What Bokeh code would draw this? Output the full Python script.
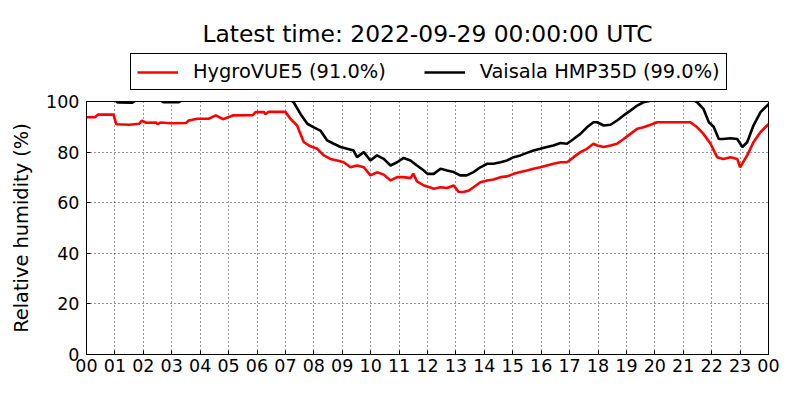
from bokeh.plotting import figure
from bokeh.layouts import column
from bokeh.models import Range1d, FixedTicker, Legend, LegendItem, Label
from bokeh.embed import file_html
from bokeh.resources import INLINE

# ---- data (hours since 00 UTC, relative humidity %) ----
hours_hygro = [0.0, 0.3, 0.4, 0.95, 1.05, 1.5, 1.85, 1.95, 2.1, 2.45, 2.5, 2.6, 2.95, 3.5, 3.6,
               3.9, 4.3, 4.55, 4.8, 5.15, 5.85, 5.95, 6.25, 6.3, 6.4, 7.0, 7.18, 7.41, 7.53, 7.65,
               7.88, 8.12, 8.35, 8.58, 8.82, 9.05, 9.29, 9.52, 9.76, 9.99, 10.22, 10.46, 10.7,
               10.93, 11.16, 11.4, 11.5, 11.63, 11.87, 12.1, 12.22, 12.46, 12.69, 12.92, 13.1,
               13.27, 13.45, 13.62, 13.86, 14.1, 14.32, 14.57, 14.8, 15.03, 15.27, 15.5, 15.73,
               15.97, 16.2, 16.43, 16.68, 16.91, 17.14, 17.38, 17.61, 17.84, 17.97, 18.2, 18.44,
               18.67, 18.9, 19.14, 19.38, 19.6, 19.85, 20.08, 21.25, 21.49, 21.71, 21.96, 22.19,
               22.41, 22.66, 22.9, 23.0, 23.25, 23.47, 23.72, 23.95, 24.0]
rh_hygro = [93.8, 93.8, 94.8, 94.8, 91.0, 90.8, 91.2, 92.4, 91.6, 91.7, 91.0, 91.7, 91.4, 91.5, 92.5,
            93.2, 93.2, 94.5, 93.0, 94.5, 94.6, 95.8, 95.8, 94.9, 95.9, 95.9, 93.1, 90.5, 87.2, 83.9,
            82.3, 81.3, 78.7, 77.3, 76.7, 76.0, 74.0, 74.7, 74.0, 70.8, 72.0, 71.1, 68.8,
            70.1, 70.1, 69.7, 71.5, 68.4, 66.8, 66.0, 65.5, 66.1, 65.8, 66.8, 64.2,
            64.2, 64.8, 66.1, 68.1, 68.8, 69.2, 70.1, 70.4, 71.4, 72.1, 72.7, 73.4,
            74.0, 74.7, 75.4, 76.0, 76.0, 78.0, 80.0, 81.3, 83.3, 82.6, 82.0, 82.6,
            83.3, 85.2, 87.2, 89.2, 89.8, 90.8, 91.8, 91.8, 89.8, 87.2, 83.3, 78.0,
            77.3, 78.0, 77.3, 74.0, 78.7, 83.9, 87.9, 90.5, 91.0]

hours_vaisala = [0.0, 1.0, 1.1, 1.6, 1.75, 2.6, 2.7, 3.25, 3.35, 7.2, 7.3, 7.53, 7.77, 8.0, 8.23,
                 8.47, 8.7, 8.94, 9.17, 9.4, 9.52, 9.76, 9.99, 10.22, 10.46, 10.7, 10.93, 11.16,
                 11.4, 11.63, 11.87, 12.0, 12.22, 12.46, 12.69, 12.92, 13.15, 13.38, 13.62, 13.86,
                 14.1, 14.32, 14.57, 14.8, 15.03, 15.27, 15.5, 15.73, 15.97, 16.2, 16.43, 16.68,
                 16.91, 17.14, 17.38, 17.61, 17.84, 17.97, 18.2, 18.44, 18.67, 18.9, 19.14, 19.38,
                 19.6, 19.85, 21.4, 21.49, 21.71, 21.9, 22.07, 22.25, 22.41, 22.66, 22.9, 23.08,
                 23.25, 23.47, 23.72, 23.95, 24.0]
rh_vaisala = [100.6, 100.5, 99.6, 99.5, 100.5, 100.4, 99.7, 99.7, 100.5, 100.5, 99.5, 95.1, 91.2, 89.8, 88.5,
              84.6, 83.3, 82.0, 81.3, 80.6, 78.0, 80.0, 76.7, 78.7, 77.3, 74.7, 76.0, 77.7,
              76.7, 74.7, 72.7, 71.4, 71.4, 73.4, 72.7, 72.1, 70.8, 70.8, 72.1, 74.0,
              75.4, 75.4, 76.0, 76.7, 78.0, 78.7, 79.7, 80.6, 81.3, 82.0, 82.6, 83.6,
              83.3, 85.2, 87.2, 89.8, 91.8, 91.8, 90.5, 90.8, 92.5, 94.5, 96.4, 98.4,
              99.7, 100.3, 100.3, 99.7, 97.1, 91.8, 90.0, 85.2, 85.2, 85.5, 85.2, 82.0,
              83.9, 90.5, 95.8, 98.4, 99.0]

tick_hours = list(range(0, 25))
tick_labels = ["00", "01", "02", "03", "04", "05", "06", "07", "08", "09", "10", "11",
               "12", "13", "14", "15", "16", "17", "18", "19", "20", "21", "22", "23", "00"]
y_ticks = [0, 20, 40, 60, 80, 100]

title_text = "Latest time: 2022-09-29 00:00:00 UTC"
label_hygro = "HygroVUE5 (91.0%)"
label_vaisala = "Vaisala HMP35D (99.0%)"
color_hygro = "#ff0000"
color_vaisala = "#000000"

FONT = "DejaVu Sans"
W = 800
TOP_H = 91
MAIN_H = 309
FRAME_L = 86
FRAME_R = 768

# ---- header figure: title + legend (its frame is aligned with the chart frame) ----
head = figure(width=W, height=TOP_H, output_backend="svg", toolbar_location=None,
              x_range=Range1d(FRAME_L, FRAME_R), y_range=Range1d(0, TOP_H),
              x_axis_type=None, y_axis_type=None,
              min_border_left=FRAME_L, min_border_right=W - FRAME_R,
              min_border_top=0, min_border_bottom=0)
head.outline_line_color = None
head.xgrid.visible = False
head.ygrid.visible = False
head.background_fill_color = "white"
head.border_fill_color = "white"

title = Label(x=(FRAME_L + FRAME_R) / 2, y=TOP_H - 33.5, text=title_text, text_align="center",
              text_baseline="alphabetic", text_font=FONT, text_font_size="23.4px",
              text_color="black")
head.add_layout(title)

# off-frame stand-ins so that the legend can draw its line samples
h1 = head.line([-100, -90], [-100, -100], line_color=color_hygro, line_width=2.6)
h2 = head.line([-100, -90], [-100, -100], line_color=color_vaisala, line_width=2.6)
legend = Legend(items=[LegendItem(label=label_hygro, renderers=[h1]),
                       LegendItem(label=label_vaisala, renderers=[h2])],
                orientation="horizontal", location=(130 - FRAME_L, TOP_H - 90))
legend.label_text_font = FONT
legend.label_text_font_size = "19.4px"
legend.label_text_color = "black"
legend.glyph_width = 41
legend.label_standoff = 15
legend.spacing = 38
legend.padding = 6
legend.margin = 0
legend.border_line_color = "black"
legend.border_line_width = 1
legend.border_line_alpha = 1
legend.background_fill_color = "white"
legend.background_fill_alpha = 1
head.add_layout(legend, "center")

# ---- main chart ----
p = figure(width=W, height=MAIN_H, output_backend="svg", toolbar_location=None,
           x_range=Range1d(0, 24), y_range=Range1d(0, 100),
           min_border_left=FRAME_L, min_border_right=W - FRAME_R,
           min_border_top=101 - TOP_H, min_border_bottom=46)
p.background_fill_color = "white"
p.border_fill_color = "white"
p.outline_line_color = "black"
p.outline_line_width = 1

p.line(hours_hygro, rh_hygro, line_color=color_hygro, line_width=2.6)
p.line(hours_vaisala, rh_vaisala, line_color=color_vaisala, line_width=2.6)

p.xaxis.ticker = FixedTicker(ticks=tick_hours)
p.xaxis.major_label_overrides = {h: lab for h, lab in zip(tick_hours, tick_labels)}
p.yaxis.ticker = FixedTicker(ticks=y_ticks)
p.yaxis.axis_label = "Relative humidity (%)"
p.yaxis.axis_label_text_font = FONT
p.yaxis.axis_label_text_font_size = "19.4px"
p.yaxis.axis_label_text_font_style = "normal"
p.yaxis.axis_label_text_color = "black"
p.yaxis.axis_label_standoff = 10

for ax in (p.xaxis, p.yaxis):
    ax.major_label_text_font = FONT
    ax.major_label_text_font_size = "17.5px"
    ax.major_label_text_color = "black"
    ax.axis_line_color = "black"
    ax.major_tick_in = 4
    ax.major_tick_out = 0
    ax.major_tick_line_color = "black"
    ax.minor_tick_line_color = None
p.xaxis.major_label_standoff = 4
p.yaxis.major_label_standoff = 7

for g in (p.xgrid, p.ygrid):
    g.grid_line_color = "black"
    g.grid_line_dash = "1 3"
    g.grid_line_width = 0.8
    g.grid_line_alpha = 1.0
p.xgrid.ticker = FixedTicker(ticks=tick_hours)
p.ygrid.ticker = FixedTicker(ticks=y_ticks)

layout = column(head, p, spacing=0)
open("out.html", "w").write(file_html(layout, INLINE))
